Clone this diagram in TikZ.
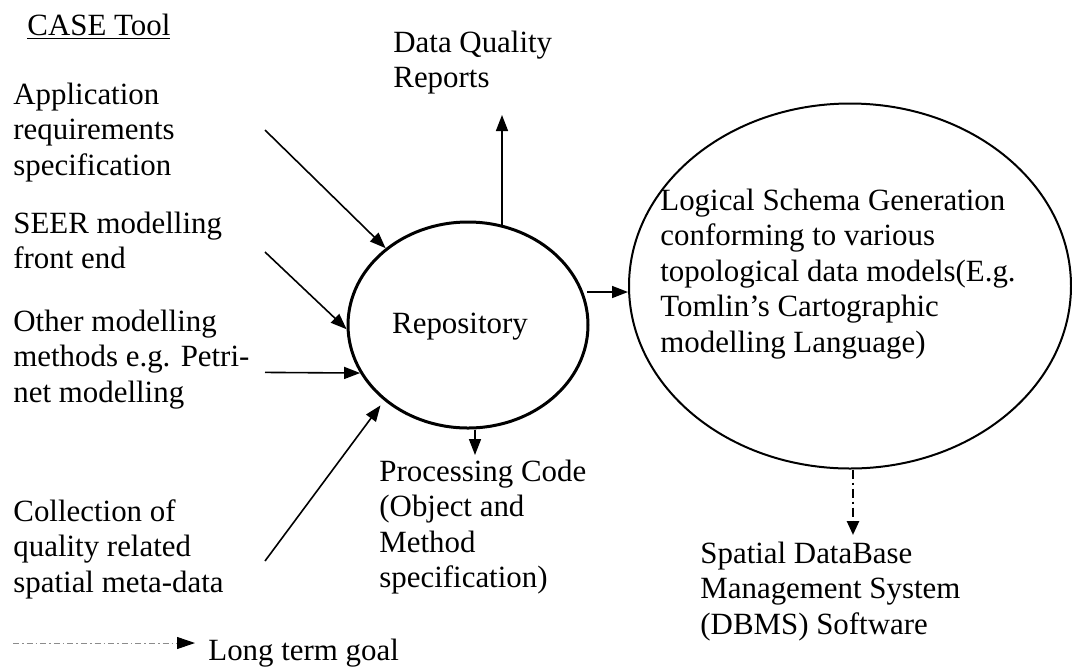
\documentclass[tikz,border=0pt]{standalone}
\usepackage{fontspec}
\setmainfont{Liberation Serif}
\usetikzlibrary{shapes.geometric,arrows.meta,calc}
\newcommand\dfs{\fontsize{15.45}{17.75}\selectfont}
\begin{document}
\begin{tikzpicture}[x=0.5pt,y=-0.5pt,
  txt/.style={anchor=north west,inner sep=0pt,align=left,font=\dfs},
  arr/.style={line width=0.8pt,-{Triangle[length=8pt,width=6pt]}},
  dasharr/.style={line width=1.3pt,dash pattern=on 4.5pt off 2pt on 1pt off 2pt,-{Triangle[length=7pt,width=6pt]}},
  legarr/.style={line width=0.5pt,draw=black!45,dash pattern=on 3pt off 1.5pt on 0.8pt off 1.5pt,-{Triangle[length=9pt,width=6pt,black]}},
  repo/.style={draw,ellipse,line width=1.5pt,minimum width=120pt,minimum height=103pt,inner sep=0pt},
  big/.style={draw,ellipse,line width=1pt,minimum width=221pt,minimum height=182.5pt,inner sep=0pt}]
\useasboundingbox (0,0) rectangle (1072,666);

% main shapes
\node[repo] (rep) at (468,325) {};
\node[big] (lsg) at (850,286) {};

% texts
\node[txt] (case) at (27,10.2) {\strut\underline{CASE Tool}};
\node[txt] (app) at (13,79.2) {\strut Application\\requirements\\specification};
\node[txt] (seer) at (13,208.2) {\strut SEER modelling\\front end};
\node[txt] (other) at (13,306.2) {\strut Other modelling\\methods e.g. Petri-\\net modelling};
\node[txt] (coll) at (13,496.2) {\strut Collection of\\quality related\\spatial meta-data};
\node[txt] (dq) at (393,27.2) {\strut Data Quality\\Reports};
\node[anchor=base,inner sep=0pt,font=\dfs] (reptxt) at (460,333) {Repository};
\node[txt] (lsgtxt) at (660,185.2) {\strut Logical Schema Generation\\conforming to various\\topological data models(E.g.\\Tomlin’s Cartographic\\modelling Language)};
\node[txt] (proc) at (379,456.2) {\strut Processing Code\\(Object and\\Method\\specification)};
\node[txt] (sdb) at (700,538.2) {\strut Spatial DataBase\\Management System\\(DBMS) Software};
\node[anchor=base west,inner sep=0pt,font=\dfs] (ltg) at (208,660) {Long term goal};

% connector end points
\coordinate (s1) at (265,130);
\coordinate (s2) at (265,252);
\coordinate (s3) at (265,372.4);
\coordinate (s4) at (265,561);
\coordinate (t1) at (502,115);
\coordinate (t2) at (475,455);
\coordinate (t3) at (853,535);
\coordinate (ra) at (587,292);
\coordinate (l0) at (13,643);
\coordinate (l1) at (195,643);

% connectors
\draw[arr] (s1) -- (rep.137);
\draw[arr] (s2) -- (rep.182);
\draw[arr] (s3) -- (rep.204);
\draw[arr,shorten >=3pt] (s4) -- (rep.222);
\draw[arr] (rep.71 -| t1) -- (t1);
\draw[arr] (t2 |- rep.south) -- (t2);
\draw[arr] (ra) -- (ra -| lsg.west);
\draw[dasharr] (t3 |- lsg.south) -- (t3);
\draw[legarr] (l0) -- (l1);
\end{tikzpicture}
\end{document}
